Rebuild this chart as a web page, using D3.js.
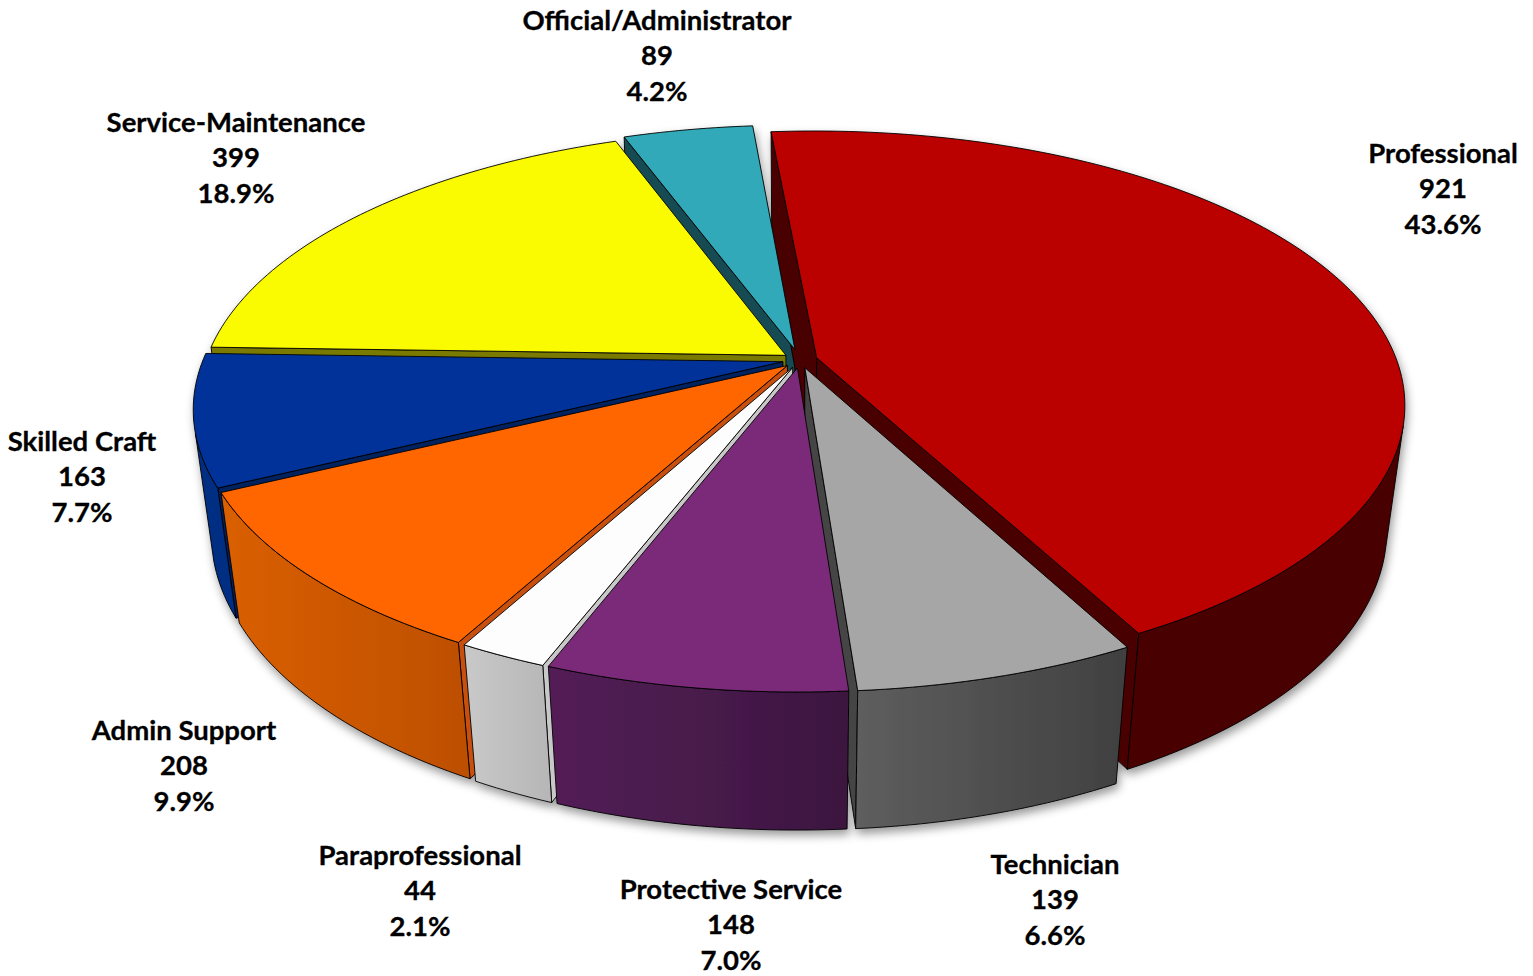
<!DOCTYPE html>
<html lang="en">
<head>
	<meta charset="utf-8">
	<title>Employees by job category</title>
	<script src="https://cdn.jsdelivr.net/npm/d3@7"></script>
	<style type="text/css">
		html, body{ margin:0; padding:0; background:#fff; }
		svg{ display:block; }
		.labels{ font-family:"Lato","Open Sans",sans-serif; font-weight:700; font-size:27.5px; fill:#000; stroke:#000; stroke-width:0.3px; text-anchor:middle; }
	</style>
</head>
<body>
<div id="vizContainer"></div>

<script type="text/javascript">
// -----------PART 1: THE DATA-----------
var categories = ["Professional","Technician","Protective Service","Paraprofessional","Admin Support","Skilled Craft","Service-Maintenance","Official/Administrator"];
var counts = [921,139,148,44,208,163,399,89];
var percents = ["43.6%","6.6%","7.0%","2.1%","9.9%","7.7%","18.9%","4.2%"];

// colours per slice: top, radial wall, outer side left and right
var topColors = ["#bb0000","#a6a6a6","#7a2c78","#fdfdfd","#ff6600","#003399","#fafa00","#31a9b8"];
var wallColors = ["#4a0000","#454545","#3c1640","#c8c8c8","#c8500a","#00205e","#7a7a00","#174c52"];
var sideLeft = ["#4a0000","#5e5e5e","#531f56","#c9c9c9","#da5f00","#002f82","#7a7a00","#174c52"];
var sideRight = ["#4a0000","#404040","#3c1640","#b6b6b6","#bd4f00","#002f82","#7a7a00","#174c52"];

// how far each slice is pulled out, fraction of the radius
var explode = [0.03,0.03,0.03,0.03,0.03,0.03,0.03,0.04];
// where the three-line labels are centred
var labelX = [1443,1055,731,420,184,82,236,657];
var labelY = [153,864,889,855,730,441,122,20];

// -----------PART 2: THE CANVAS-----------
var width = 1533;
var height = 976;
var svgCanvas = d3.select("#vizContainer").append("svg")
	.attr("width", width)
	.attr("height", height);

var defs = svgCanvas.append("defs");
var shadow = defs.append("filter").attr("id","pieShadow")
	.attr("x","-5%").attr("y","-5%").attr("width","110%").attr("height","115%");
shadow.append("feDropShadow")
	.attr("dx",2).attr("dy",5).attr("stdDeviation",5)
	.attr("flood-color","#000").attr("flood-opacity",0.4);

// -----------PART 3: THE PROJECTION-----------
var cx = 800, cy = 360;
var radiusX = 580, radiusY = 266;
var perspective = 0.17;
var depth = 128, depthShrink = 0.03;
var startDeg = -5;

// u,v are on the unit pie (v toward the viewer), z is 0 on top and 1 at the bottom
var xScale = d3.scaleLinear().domain([0,1]).range([cx, cx+radiusX]);
var yScale = d3.scaleLinear().domain([0,1]).range([0, radiusY]);
function project(u,v,z){
	var w = 1 - perspective*v + depthShrink*z;
	return [cx + (xScale(u)-cx)/w, cy + (yScale(v)+depth*z)/w];
}

var pie = d3.pie().sort(null)
	.startAngle(startDeg*Math.PI/180)
	.endAngle((startDeg+360)*Math.PI/180);
var slices = pie(counts).map(function(d,i){
	var mid = (d.startAngle+d.endAngle)/2;
	var ou = explode[i]*Math.sin(mid), ov = -explode[i]*Math.cos(mid);
	var steps = Math.max(4, Math.ceil((d.endAngle-d.startAngle)/0.02));
	var angles = d3.range(steps+1).map(function(k){ return d.startAngle+(d.endAngle-d.startAngle)*k/steps; });
	return {i:i, mid:mid, ou:ou, ov:ov, angles:angles, order:ov-Math.cos(mid)};
});

function rim(s,a,z){ return project(s.ou+Math.sin(a), s.ov-Math.cos(a), z); }
function apex(s,z){ return project(s.ou, s.ov, z); }
var line = d3.line().curve(d3.curveLinear);
function closed(points){ return line(points)+"Z"; }

// -----------PART 4: DRAWING-----------
var pieGroup = svgCanvas.append("g").attr("filter","url(#pieShadow)");
var bodies = pieGroup.append("g");
var tops = pieGroup.append("g");

// walls and sides back to front, tops always last because nothing sits above them
slices.slice().sort(function(a,b){ return a.order-b.order; }).forEach(function(s){
	var first = s.angles[0], last = s.angles[s.angles.length-1];
	// radial walls, only the ones that face the viewer
	[[first,1],[last,-1]].forEach(function(w){
		var quad = [apex(s,0), rim(s,w[0],0), rim(s,w[0],1), apex(s,1)];
		if(d3.polygonArea(quad)*w[1] > 0){
			bodies.append("path").attr("d",closed(quad))
				.attr("fill",wallColors[s.i]).attr("stroke","#000").attr("stroke-width",0.9).attr("stroke-linejoin","round");
		}
	});
	// outer side: keep the part of the arc turned toward the viewer
	var facing = s.angles.filter(function(a){
		var q = [rim(s,a,0), rim(s,a+0.01,0), rim(s,a+0.01,1), rim(s,a,1)];
		return d3.polygonArea(q) > 0;
	});
	if(facing.length > 1){
		var side = facing.map(function(a){ return rim(s,a,0); })
			.concat(facing.slice().reverse().map(function(a){ return rim(s,a,1); }));
		var gradId = "side"+s.i;
		var grad = defs.append("linearGradient").attr("id",gradId)
			.attr("gradientUnits","userSpaceOnUse")
			.attr("x1",d3.min(side,function(p){return p[0];})).attr("x2",d3.max(side,function(p){return p[0];}))
			.attr("y1",0).attr("y2",0);
		grad.append("stop").attr("offset",0).attr("stop-color",sideLeft[s.i]);
		grad.append("stop").attr("offset",1).attr("stop-color",sideRight[s.i]);
		bodies.append("path").attr("d",closed(side))
			.attr("fill","url(#"+gradId+")").attr("stroke","#000").attr("stroke-width",0.9).attr("stroke-linejoin","round");
	}
	// top face
	var face = [apex(s,0)].concat(s.angles.map(function(a){ return rim(s,a,0); }));
	tops.append("path").attr("d",closed(face))
		.attr("fill",topColors[s.i]).attr("stroke","#000").attr("stroke-width",0.9).attr("stroke-linejoin","round");
});

// labels: name, count, percent
var labels = svgCanvas.selectAll(".labels")
	.data(categories)
	.enter()
	.append("text")
	.attr("class","labels");
[categories,counts,percents].forEach(function(rows,r){
	labels.append("tspan")
		.attr("x",function(d,i){ return labelX[i]; })
		.attr("y",function(d,i){ return labelY[i]+r*35.7; })
		.attr("dy","0.35em")
		.text(function(d,i){ return rows[i]; });
});
</script>
</body>
</html>
